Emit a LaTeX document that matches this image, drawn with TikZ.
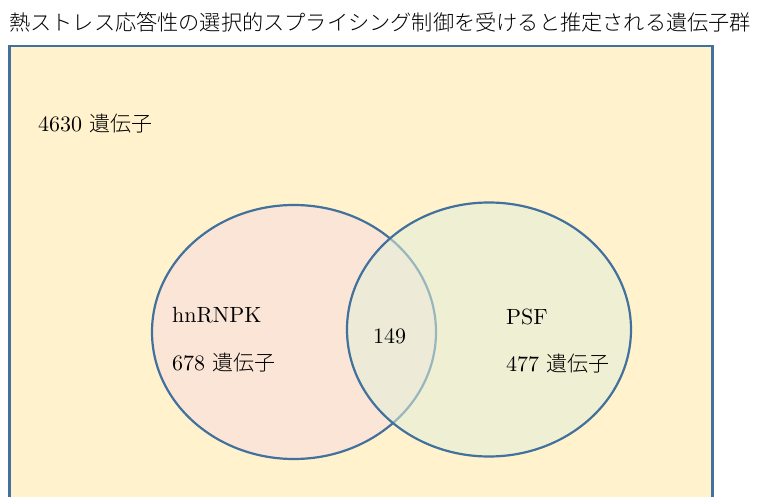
\documentclass[tikz,border=0pt]{standalone}
\usepackage{fontspec}
\setmainfont{lmroman10-regular}[Extension=.otf]
\newfontfamily\jp{Noto Sans CJK JP Light}
\usetikzlibrary{shapes.geometric}
\definecolor{boxfill}{HTML}{FFF2CC}
\definecolor{boxline}{HTML}{41719C}
\definecolor{leftfill}{HTML}{FBE5D6}
\definecolor{rightfill}{HTML}{E2F0D9}
\tikzset{
  lbl/.style={inner sep=0pt, anchor=base west, font=\fontsize{22}{26}\selectfont},
  setshape/.style={ellipse, draw=boxline, line width=2.2pt, minimum width=284pt, minimum height=254pt, inner sep=0pt},
}
\begin{document}
\begin{tikzpicture}[x=1pt,y=-1pt]
\useasboundingbox (0,0) rectangle (758,497);
\clip (0,0) rectangle (758,497);
\node[inner sep=0pt, anchor=west, font=\jp\fontsize{21.2}{24}\selectfont] (title) at (9,22) {熱ストレス応答性の選択的スプライシング制御を受けると推定される遺伝子群};
\node[draw=boxline, line width=2.5pt, fill=boxfill, minimum width=703pt, minimum height=480pt, anchor=north west, inner sep=0pt] (frame) at (8,45) {};
\node[setshape, fill=leftfill] (setA) at (294,332) {};
\node[setshape, draw opacity=1, fill=rightfill, fill opacity=0.55] (setB) at (489,329.5) {};
\node[lbl] (total) at (38,132) {4630 {\jp\fontsize{21}{26}\selectfont 遺伝子}};
\node[lbl] (nameA) at (172,323) {hnRNPK};
\node[lbl] (countA) at (172,370) {678 {\jp\fontsize{21}{26}\selectfont 遺伝子}};
\node[lbl] (inter) at (373,343) {149};
\node[lbl] (nameB) at (506,324) {PSF};
\node[lbl] (countB) at (506,371) {477 {\jp\fontsize{21}{26}\selectfont 遺伝子}};
\end{tikzpicture}
\end{document}
